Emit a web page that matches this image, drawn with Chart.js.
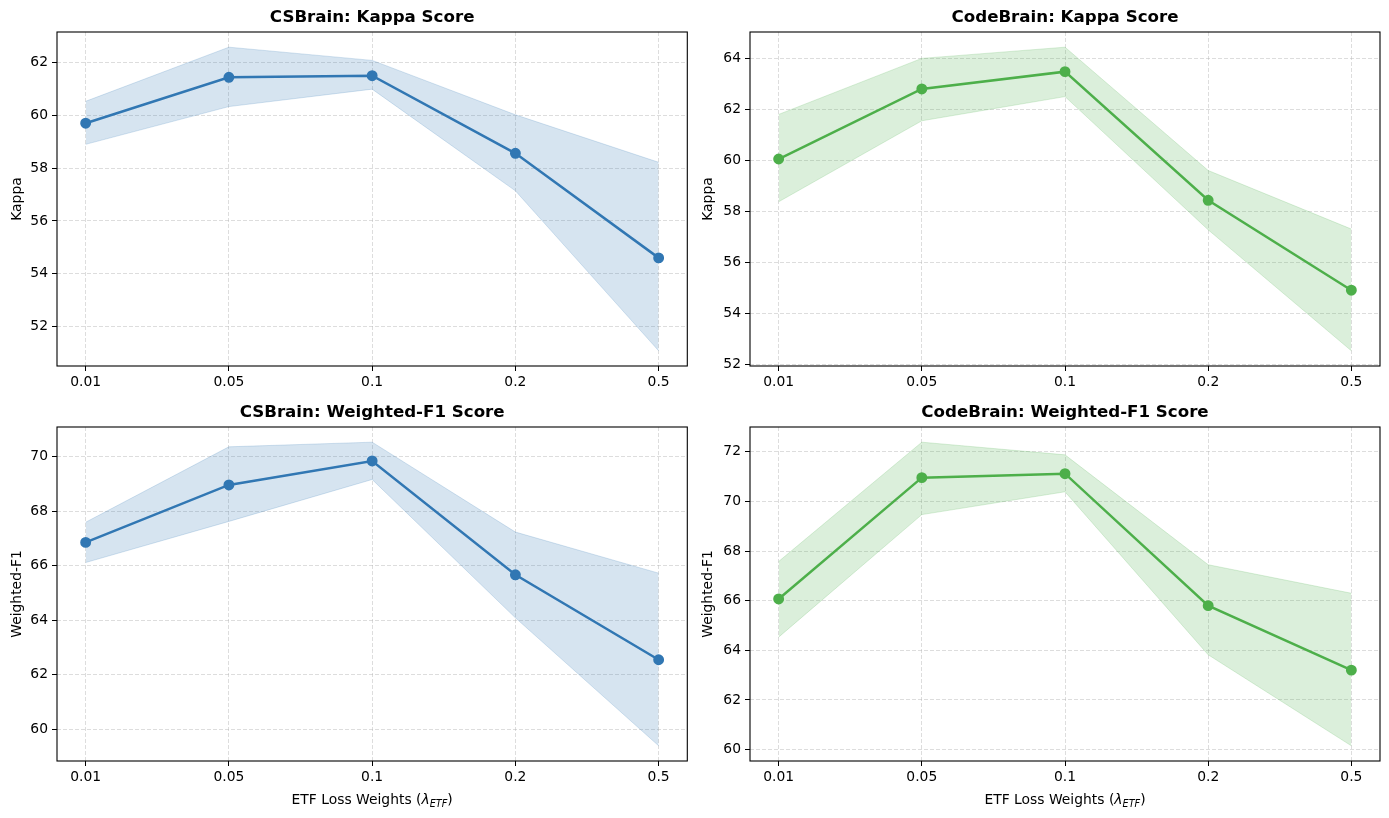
<!DOCTYPE html>
<html>
<head>
<meta charset="utf-8">
<script src="https://cdn.jsdelivr.net/npm/chart.js@4.4.1/dist/chart.umd.min.js"></script>
<style>
  body { margin: 0; background: #fff; width: 1389px; height: 818px; overflow: hidden; position: relative; }
  .panel { position: absolute; }
</style>
</head>
<body>
<div class="panel" style="left:0;top:0;width:694px;height:395px"><canvas id="c0"></canvas></div>
<div class="panel" style="left:694px;top:0;width:695px;height:395px"><canvas id="c1"></canvas></div>
<div class="panel" style="left:0;top:395px;width:694px;height:423px"><canvas id="c2"></canvas></div>
<div class="panel" style="left:694px;top:395px;width:695px;height:423px"><canvas id="c3"></canvas></div>
<script>
// ETF loss weights (categorical x axis)
const lambdas = ['0.01', '0.05', '0.1', '0.2', '0.5'];

// CSBrain kappa
const csKappa = [59.70, 61.44, 61.50, 58.56, 54.60];
const csKappaLow = [58.90, 60.33, 60.99, 57.14, 51.08];
const csKappaHigh = [60.53, 62.58, 62.08, 60.02, 58.22];

// CodeBrain kappa
const cbKappa = [60.05, 62.80, 63.48, 58.43, 54.90];
const cbKappaLow = [58.37, 61.55, 62.50, 57.27, 52.52];
const cbKappaHigh = [61.80, 64.00, 64.44, 59.60, 57.30];

// CSBrain weighted-F1
const csF1 = [66.86, 68.97, 69.85, 65.67, 62.55];
const csF1Low = [66.12, 67.63, 69.17, 64.09, 59.39];
const csF1High = [67.60, 70.37, 70.54, 67.24, 65.73];

// CodeBrain weighted-F1
const cbF1 = [66.07, 70.96, 71.12, 65.80, 63.20];
const cbF1Low = [64.53, 69.47, 70.39, 63.82, 60.15];
const cbF1High = [67.58, 72.39, 71.88, 67.45, 66.30];

// y tick labels
const csKappaTicks = [52, 54, 56, 58, 60, 62];
const cbKappaTicks = [52, 54, 56, 58, 60, 62, 64];
const csF1Ticks = [60, 62, 64, 66, 68, 70];
const cbF1Ticks = [60, 62, 64, 66, 68, 70, 72];

const FONT = 'DejaVu Sans';
const gridColor = 'rgba(176,176,176,0.55)';
const blue = '#3177b3';
const green = '#4daf4a';

const frameAndText = {
  id: 'frameAndText',
  afterDraw(chart, args, opts) {
    const { ctx, chartArea: a } = chart;
    ctx.save();
    ctx.strokeStyle = '#000';
    ctx.lineWidth = 1.1;
    ctx.strokeRect(a.left, a.top, a.right - a.left, a.bottom - a.top);

    ctx.fillStyle = '#000';
    ctx.font = 'bold 16.67px "' + FONT + '"';
    ctx.textAlign = 'center';
    ctx.textBaseline = 'middle';
    ctx.fillText(opts.title, (a.left + a.right) / 2, a.top - 14);

    if (opts.xlabel) {
      // ETF Loss Weights (λ_ETF) with italic subscript
      const parts = [
        { t: 'ETF Loss Weights (', f: '13.89px "' + FONT + '"', dy: 0 },
        { t: 'λ', f: 'italic 13.89px "' + FONT + '"', dy: 0 },
        { t: 'ETF', f: 'italic 9.7px "' + FONT + '"', dy: 3 },
        { t: ')', f: '13.89px "' + FONT + '"', dy: 0 }
      ];
      let total = 0;
      parts.forEach(p => { ctx.font = p.f; p.w = ctx.measureText(p.t).width; total += p.w; });
      let x = (a.left + a.right) / 2 - total / 2;
      const base = a.bottom + 43;
      ctx.textAlign = 'left';
      ctx.textBaseline = 'alphabetic';
      parts.forEach(p => { ctx.font = p.f; ctx.fillText(p.t, x, base + p.dy); x += p.w; });
    }
    ctx.restore();
  }
};

function pts(arr) { return arr.map((v, i) => ({ x: i, y: v })); }

function makePanel(id, cfg) {
  let lo = Math.min(...cfg.low), hi = Math.max(...cfg.high);
  const m = (hi - lo) * 0.05;
  lo -= m; hi += m;
  const tickFont = { family: FONT, size: 13.89 };
  new Chart(document.getElementById(id), {
    type: 'line',
    data: {
      datasets: [
        { data: pts(cfg.mean), borderColor: cfg.color, backgroundColor: cfg.color,
          borderWidth: 2.5, pointRadius: 4.2, pointHoverRadius: 4.2, fill: false, tension: 0 },
        { data: pts(cfg.low), borderColor: cfg.edge, borderWidth: 1, pointRadius: 0, fill: false, tension: 0 },
        { data: pts(cfg.high), borderColor: cfg.edge, borderWidth: 1, pointRadius: 0,
          fill: '-1', backgroundColor: cfg.band, tension: 0 }
      ]
    },
    options: {
      responsive: true,
      maintainAspectRatio: false,
      animation: false,
      events: [],
      layout: { padding: { left: cfg.pl, right: cfg.pr, top: 32, bottom: 0 } },
      plugins: {
        legend: { display: false },
        tooltip: { enabled: false },
        frameAndText: { title: cfg.title, xlabel: cfg.xlabel }
      },
      scales: {
        x: {
          type: 'linear', min: -0.2, max: 4.2,
          afterBuildTicks: s => { s.ticks = lambdas.map((_, i) => ({ value: i })); },
          afterFit: s => { s.height = cfg.xh; },
          ticks: { callback: v => lambdas[v], font: tickFont, color: '#000', padding: 3, autoSkip: false, maxRotation: 0 },
          grid: { color: gridColor, lineWidth: 0.8, tickLength: 5, tickColor: '#000', tickWidth: 1 },
          border: { display: false, dash: [4, 2] }
        },
        y: {
          min: lo, max: hi,
          afterBuildTicks: s => { s.ticks = cfg.ticks.map(v => ({ value: v })); },
          afterFit: s => { s.width = cfg.yw; },
          ticks: { font: tickFont, color: '#000', padding: 4 },
          title: { display: true, text: cfg.ylabel, font: tickFont, color: '#000', padding: 0 },
          grid: { color: gridColor, lineWidth: 0.8, tickLength: 5, tickColor: '#000', tickWidth: 1 },
          border: { display: false, dash: [4, 2] }
        }
      }
    },
    plugins: [frameAndText]
  });
}

const blueBand = 'rgba(49,119,179,0.2)';
const greenBand = 'rgba(77,175,74,0.2)';

makePanel('c0', { mean: csKappa, low: csKappaLow, high: csKappaHigh, ticks: csKappaTicks,
  color: blue, band: blueBand, edge: blueBand, title: 'CSBrain: Kappa Score', ylabel: 'Kappa',
  xlabel: false, pl: 9, pr: 6, yw: 48, xh: 29 });
makePanel('c1', { mean: cbKappa, low: cbKappaLow, high: cbKappaHigh, ticks: cbKappaTicks,
  color: green, band: greenBand, edge: greenBand, title: 'CodeBrain: Kappa Score', ylabel: 'Kappa',
  xlabel: false, pl: 6, pr: 9, yw: 50, xh: 29 });
makePanel('c2', { mean: csF1, low: csF1Low, high: csF1High, ticks: csF1Ticks,
  color: blue, band: blueBand, edge: blueBand, title: 'CSBrain: Weighted-F1 Score', ylabel: 'Weighted-F1',
  xlabel: true, pl: 9, pr: 6, yw: 48, xh: 57 });
makePanel('c3', { mean: cbF1, low: cbF1Low, high: cbF1High, ticks: cbF1Ticks,
  color: green, band: greenBand, edge: greenBand, title: 'CodeBrain: Weighted-F1 Score', ylabel: 'Weighted-F1',
  xlabel: true, pl: 6, pr: 9, yw: 50, xh: 57 });
</script>
</body>
</html>
